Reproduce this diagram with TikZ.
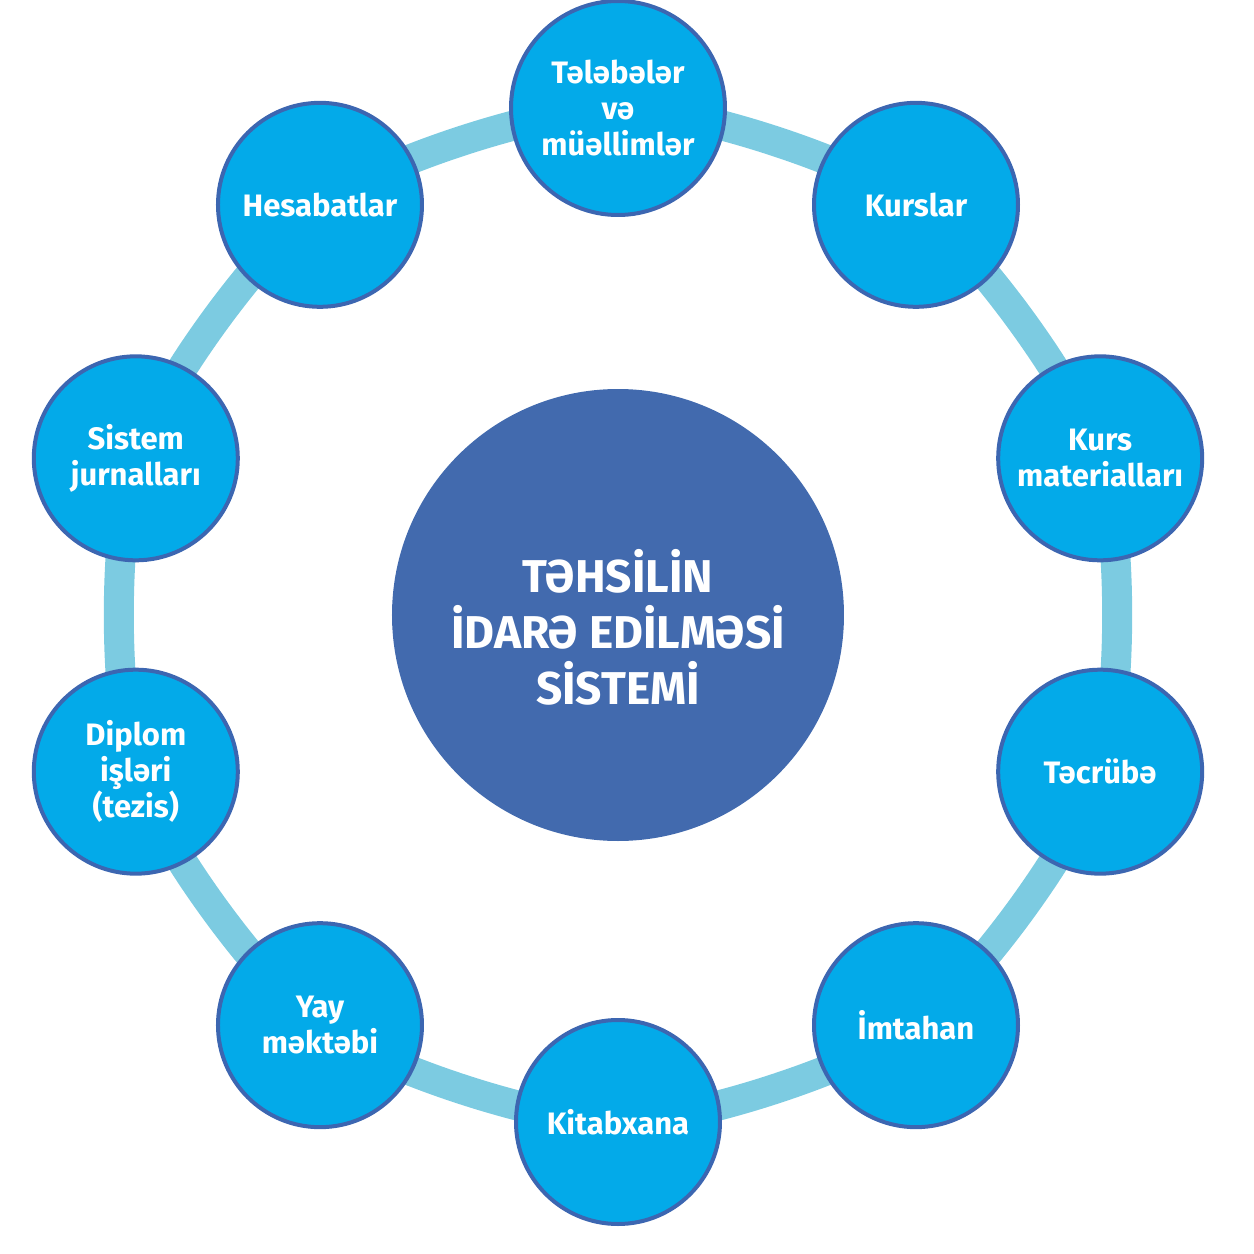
\documentclass[tikz,border=0pt]{standalone}
\usepackage{fontspec}
\setmainfont{Fira Sans}
\usetikzlibrary{backgrounds}
\definecolor{ringblue}{HTML}{7CCBE1}
\definecolor{itemcyan}{HTML}{03AAE9}
\definecolor{edgeblue}{HTML}{3C66B1}
\definecolor{hubblue}{HTML}{426AAE}
\tikzset{item/.style={circle, draw=edgeblue, line width=4pt, fill=itemcyan, text=white,
    minimum size=204pt, inner sep=0pt, align=center,
    font=\fontsize{31}{36}\selectfont\bfseries},
  ring/.style={draw=ringblue, line width=30pt}}

\begin{document}
\begin{tikzpicture}[x=1pt, y=1pt]
\useasboundingbox (-618,-639) rectangle (636,615);
%hub
\node[circle, fill=hubblue, minimum size=452pt] (hub) at (0,0) {};
\node[text=white, align=center, font=\fontsize{46}{56}\selectfont\bfseries]
  (hubtext) at ([yshift=-12pt]hub.center) {TƏHSİLİN\\İDARƏ EDİLMƏSİ\\SİSTEMİ};
%ring of items
\node[item, minimum size=214pt] (n0) at (90:507) {Tələbələr\\və\\müəllimlər};
\node[item] (n1) at (54:507) {Kurslar};
\node[item] (n2) at (18:507) {Kurs\\materialları};
\node[item] (n3) at (-18:507) {Təcrübə};
\node[item] (n4) at (-54:507) {İmtahan};
\node[item] (n5) at (-90:507) {Kitabxana};
\node[item] (n6) at (-126:507) {Yay\\məktəbi};
\node[item] (n7) at (-162:507) {Diplom\\işləri\\(tezis)};
\node[item] (n8) at (162:507) {Sistem\\jurnalları};
\node[item] (n9) at (126:507) {Hesabatlar};
\begin{scope}[on background layer]
\foreach \a/\b in {0/1,1/2,2/3,3/4,4/5,5/6,6/7,7/8,8/9,9/0}
  {\draw[ring] (n\a.center) to[bend left=18, looseness=0.6] (n\b.center);}
\end{scope}
\end{tikzpicture}
\end{document}
